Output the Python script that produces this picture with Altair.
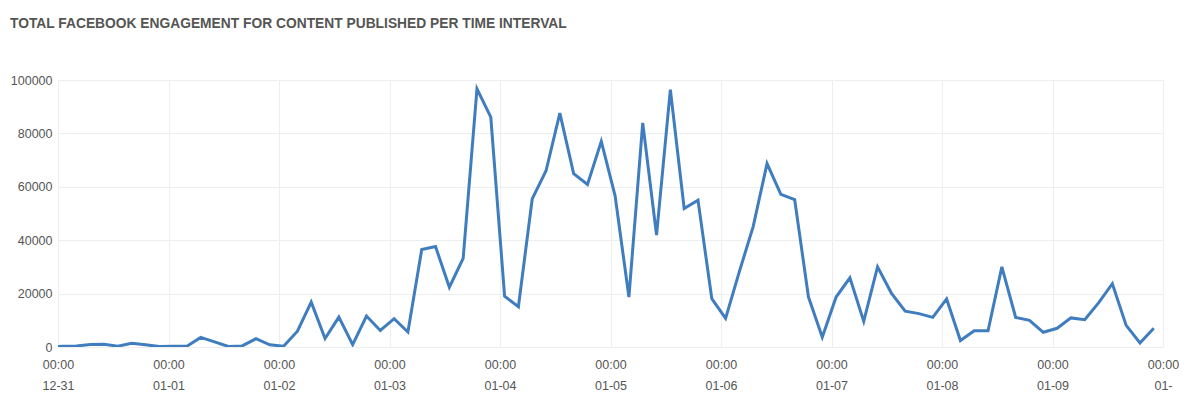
import altair as alt
import pandas as pd

TITLE = "TOTAL FACEBOOK ENGAGEMENT FOR CONTENT PUBLISHED PER TIME INTERVAL"

# 3-hour intervals (first point just before the visible window, clipped)
times = pd.date_range("2019-12-30 22:00", periods=81, freq="3h").strftime("%Y-%m-%dT%H:%M:%S")

engagement = [
    100,
    300, 400, 900, 1000, 300, 1400, 800, 200,
    300, 300, 3600, 1900, 200, 400, 3100, 800,
    300, 5900, 16800, 3200, 11200, 900, 11600, 6200,
    10600, 5600, 36500, 37600, 22400, 33200, 96700, 86100,
    19000, 15100, 55500, 66000, 87600, 64900, 60900, 77000,
    56600, 18700, 83900, 41900, 96400, 51900, 55000, 18100,
    10700, 28300, 45200, 68700, 57200, 55200, 18700, 3700,
    18700, 25900, 9600, 30000, 20200, 13400, 12500, 11100,
    18000, 2400, 6100, 6100, 30000, 11100, 10000, 5500,
    7000, 10900, 10200, 16500, 23700, 8100, 1500, 7000,
]

day_ticks = [(2019, 12, 31)] + [(2020, 1, d) for d in range(1, 11)]
y_ticks = [0, 20000, 40000, 60000, 80000, 100000]

df = pd.DataFrame({"time": list(times), "engagement": engagement})

FONT = "Liberation Sans"
LABEL_COLOR = "#555555"
GRID_COLOR = "#eeeeee"

x_vals = [alt.DateTime(year=y, month=m, date=d) for (y, m, d) in day_ticks]

label_expr = (
    "timeFormat(datum.value, '%m-%d') == '01-10' ? "
    "[timeFormat(datum.value, '%H:%M'), '01-', '10'] : "
    "[timeFormat(datum.value, '%H:%M'), timeFormat(datum.value, '%m-%d')]"
)

line = alt.Chart(df).mark_line(
    clip=True, color="#3f7dbf", strokeWidth=3
).encode(
    x=alt.X(
        "time:T",
        scale=alt.Scale(domain=[x_vals[0], x_vals[-1]]),
        axis=alt.Axis(
            values=x_vals,
            labelExpr=label_expr,
            title=None,
            grid=True,
            gridColor=GRID_COLOR,
            ticks=False,
            domain=False,
            labelPadding=11,
            labelLineHeight=21,
            labelFont=FONT,
            labelFontSize=12.5,
            labelColor=LABEL_COLOR,
            labelOverlap=False,
            labelFlush=False,
        ),
    ),
    y=alt.Y(
        "engagement:Q",
        scale=alt.Scale(domain=[0, 100000], nice=False),
        axis=alt.Axis(
            values=y_ticks,
            format="d",
            title=None,
            grid=True,
            gridColor=GRID_COLOR,
            ticks=False,
            domain=False,
            labelPadding=6,
            labelFont=FONT,
            labelFontSize=12.5,
            labelColor=LABEL_COLOR,
        ),
    ),
)

title = alt.Chart(pd.DataFrame({"label": [TITLE]})).mark_text(
    align="left",
    baseline="alphabetic",
    fontWeight="bold",
    fontSize=13.8,
    font=FONT,
    color="#555555",
    x=-48,
    y=-52,
).encode(text="label:N")

chart = alt.layer(line, title).properties(
    width=1105,
    height=267,
    padding={"left": 50, "top": 72, "right": 16, "bottom": 52},
    autosize=alt.AutoSizeParams(type="none"),
    background="white",
).configure_view(stroke=None)

chart.save("out.html", embed_options={"renderer": "svg", "actions": False})
